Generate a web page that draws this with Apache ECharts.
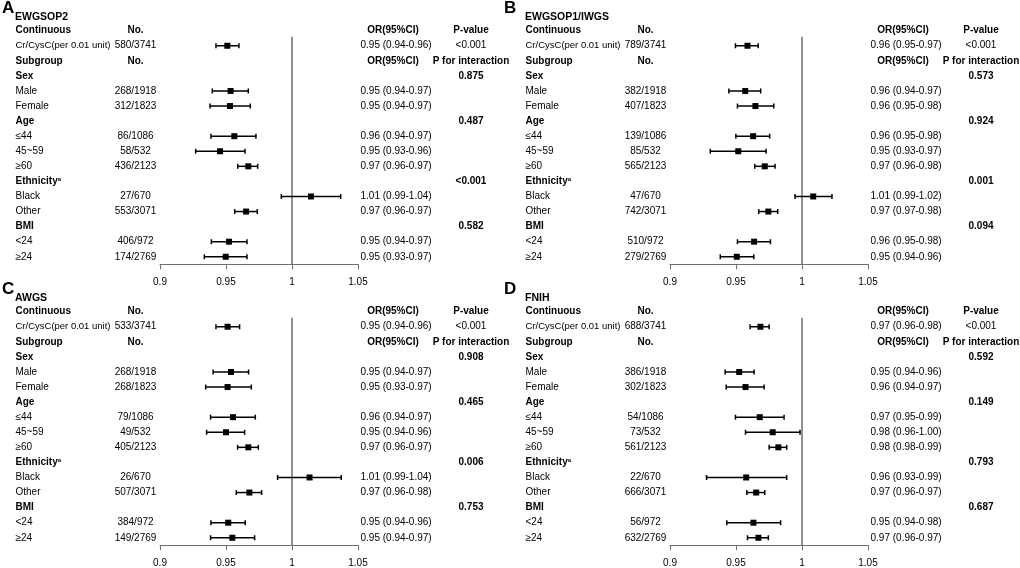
<!DOCTYPE html>
<html>
<head>
<meta charset="utf-8">
<title>Forest plots</title>
<script src="https://cdn.jsdelivr.net/npm/echarts@6/dist/echarts.min.js"></script>
<style>
	html, body { margin: 0; padding: 0; background: #fff; }
	#main { width: 1020px; height: 568px; }
</style>
</head>
<body>
<div id="main"></div>
<script>
const panelLetters = ["A", "B", "C", "D"]
const panelTitles = ["EWGSOP2", "EWGSOP1/IWGS", "AWGS", "FNIH"]
const rowLabels = ["Cr/CysC(per 0.01 unit)", "Male", "Female", "≤44", "45~59", "≥60", "Black", "Other", "<24", "≥24"]
const groupLabels = ["Sex", "Age", "Ethnicity", "BMI"]
const groupNotes = ["", "", "a", ""]
const xTicks = [0.9, 0.95, 1, 1.05]

// A: EWGSOP2
const countsA = ["580/3741", "268/1918", "312/1823", "86/1086", "58/532", "436/2123", "27/670", "553/3071", "406/972", "174/2769"]
const orTextA = ["0.95 (0.94-0.96)", "0.95 (0.94-0.97)", "0.95 (0.94-0.97)", "0.96 (0.94-0.97)", "0.95 (0.93-0.96)", "0.97 (0.96-0.97)", "1.01 (0.99-1.04)", "0.97 (0.96-0.97)", "0.95 (0.94-0.97)", "0.95 (0.93-0.97)"]
const pTextA = ["<0.001", "0.875", "0.487", "<0.001", "0.582"]
const estA = [0.951, 0.9535, 0.953, 0.9563, 0.9455, 0.9669, 1.0144, 0.9652, 0.9523, 0.9498]
const lowA = [0.9424, 0.9396, 0.9379, 0.9386, 0.927, 0.9589, 0.9919, 0.9566, 0.9389, 0.9336]
const highA = [0.9598, 0.9669, 0.9684, 0.9727, 0.9644, 0.974, 1.0369, 0.9737, 0.9659, 0.9659]

// B: EWGSOP1/IWGS
const countsB = ["789/3741", "382/1918", "407/1823", "139/1086", "85/532", "565/2123", "47/670", "742/3071", "510/972", "279/2769"]
const orTextB = ["0.96 (0.95-0.97)", "0.96 (0.94-0.97)", "0.96 (0.95-0.98)", "0.96 (0.95-0.98)", "0.95 (0.93-0.97)", "0.97 (0.96-0.98)", "1.01 (0.99-1.02)", "0.97 (0.97-0.98)", "0.96 (0.95-0.98)", "0.95 (0.94-0.96)"]
const pTextB = ["<0.001", "0.573", "0.924", "0.001", "0.094"]
const estB = [0.9587, 0.957, 0.9647, 0.963, 0.9517, 0.9718, 1.0085, 0.9745, 0.9637, 0.9506]
const lowB = [0.9496, 0.9446, 0.9511, 0.9499, 0.9305, 0.9642, 0.9947, 0.9672, 0.9511, 0.9381]
const highB = [0.9668, 0.9687, 0.9786, 0.9755, 0.9728, 0.9796, 1.0227, 0.9816, 0.9761, 0.9635]

// C: AWGS
const countsC = ["533/3741", "268/1918", "268/1823", "79/1086", "49/532", "405/2123", "26/670", "507/3071", "384/972", "149/2769"]
const orTextC = ["0.95 (0.94-0.96)", "0.95 (0.94-0.97)", "0.95 (0.93-0.97)", "0.96 (0.94-0.97)", "0.95 (0.94-0.96)", "0.97 (0.96-0.97)", "1.01 (0.99-1.04)", "0.97 (0.96-0.98)", "0.95 (0.94-0.96)", "0.95 (0.94-0.97)"]
const pTextC = ["<0.001", "0.908", "0.465", "0.006", "0.753"]
const estC = [0.9512, 0.9538, 0.9512, 0.9553, 0.95, 0.9669, 1.0133, 0.9677, 0.9517, 0.9548]
const lowC = [0.9424, 0.9402, 0.9346, 0.9383, 0.9353, 0.9588, 0.9891, 0.9578, 0.9386, 0.9383]
const highC = [0.9603, 0.9671, 0.9692, 0.9722, 0.9641, 0.9745, 1.0373, 0.977, 0.9646, 0.9717]

// D: FNIH
const countsD = ["688/3741", "386/1918", "302/1823", "54/1086", "73/532", "561/2123", "22/670", "666/3071", "56/972", "632/2769"]
const orTextD = ["0.97 (0.96-0.98)", "0.95 (0.94-0.96)", "0.96 (0.94-0.97)", "0.97 (0.95-0.99)", "0.98 (0.96-1.00)", "0.98 (0.98-0.99)", "0.96 (0.93-0.99)", "0.97 (0.96-0.97)", "0.95 (0.94-0.98)", "0.97 (0.96-0.97)"]
const pTextD = ["<0.001", "0.592", "0.149", "0.793", "0.687"]
const estD = [0.9685, 0.9524, 0.9572, 0.968, 0.9778, 0.9821, 0.9577, 0.9653, 0.9632, 0.967]
const lowD = [0.9607, 0.9418, 0.9426, 0.9496, 0.9572, 0.9751, 0.9277, 0.9582, 0.943, 0.9587]
const highD = [0.9751, 0.9637, 0.9713, 0.9864, 0.9985, 0.9884, 0.9884, 0.9718, 0.9838, 0.9745]

const panels = [
	{ counts: countsA, orText: orTextA, pText: pTextA, est: estA, low: lowA, high: highA },
	{ counts: countsB, orText: orTextB, pText: pTextB, est: estB, low: lowB, high: highB },
	{ counts: countsC, orText: orTextC, pText: pTextC, est: estC, low: lowC, high: highC },
	{ counts: countsD, orText: orTextD, pText: pTextD, est: estD, low: lowD, high: highD },
]

// layout
const FONT = '"Liberation Sans", Arial, sans-serif'
const panelPos = [[0, 0], [510, 0], [0, 281], [510, 281]]
const letterX = [2, -6, 2, -6]
const rowOf = [1, 4, 5, 7, 8, 9, 11, 12, 14, 15]
const groupRowOf = [3, 6, 10, 13]
const rowMin = -1
const rowMax = 15.5
const gridTop = 15.6
const gridHeight = 248.7
const col = { label: 15.5, count: 135.5, orHead: 393, orVal: 360.5, p: 471 }
const plotLeft = 160
const plotWidth = 198
const gray = "#6e6e6e"

const buildTexts = (p) => {
	const d = panels[p]
	let t = []
	t.push({ x: letterX[p], row: -1.47, text: panelLetters[p], size: 17, bold: true })
	t.push({ x: col.label - 0.5, row: -0.93, text: panelTitles[p], size: 10.5, bold: true })
	t.push({ x: col.label, row: 0, text: "Continuous", bold: true })
	t.push({ x: col.count, row: 0, text: "No.", bold: true, align: "center" })
	t.push({ x: col.orHead, row: 0, text: "OR(95%CI)", bold: true, align: "center" })
	t.push({ x: col.p, row: 0, text: "P-value", bold: true, align: "center" })
	t.push({ x: col.p, row: 1, text: d.pText[0], align: "center" })
	t.push({ x: col.label, row: 2, text: "Subgroup", bold: true })
	t.push({ x: col.count, row: 2, text: "No.", bold: true, align: "center" })
	t.push({ x: col.orHead, row: 2, text: "OR(95%CI)", bold: true, align: "center" })
	t.push({ x: col.p, row: 2, text: "P for interaction", bold: true, align: "center" })
	groupLabels.forEach((g, i) => {
		t.push({ x: col.label, row: groupRowOf[i], text: g, bold: true, sup: groupNotes[i] })
		t.push({ x: col.p, row: groupRowOf[i], text: d.pText[i + 1], bold: true, align: "center" })
	})
	rowLabels.forEach((lab, i) => {
		// the long continuous label is set a touch tighter, as in the source figure
		t.push({ x: col.label, row: rowOf[i], text: lab, size: i === 0 ? 9.5 : 10 })
		t.push({ x: col.count, row: rowOf[i], text: d.counts[i], align: "center" })
		t.push({ x: col.orVal, row: rowOf[i], text: d.orText[i] })
	})
	return t
}

const renderText = (texts) => (params, api) => {
	const t = texts[params.dataIndex]
	const pos = api.coord([t.x, t.row])
	let style = {
		text: t.sup ? t.text + "{sup|" + t.sup + "}" : t.text,
		fill: "#000",
		fontSize: t.size || 10,
		fontWeight: t.bold ? "bold" : "normal",
		fontFamily: FONT,
		align: t.align || "left",
		verticalAlign: "middle",
	}
	if (t.sup) {
		style.rich = { sup: { fontSize: 6, fontWeight: "bold", fontFamily: FONT, fill: "#000", verticalAlign: "top" } }
	}
	return { type: "text", x: pos[0], y: pos[1], style: style }
}

const renderForest = (params, api) => {
	const row = api.value(1)
	const pE = api.coord([api.value(0), row])
	const pL = api.coord([api.value(2), row])
	const pH = api.coord([api.value(3), row])
	const cap = 2.5
	const half = 3
	const ls = { stroke: "#000", lineWidth: 1.5 }
	return {
		type: "group",
		children: [
			{ type: "line", shape: { x1: pL[0], y1: pL[1], x2: pH[0], y2: pH[1] }, style: ls },
			{ type: "line", shape: { x1: pL[0], y1: pL[1] - cap, x2: pL[0], y2: pL[1] + cap }, style: ls },
			{ type: "line", shape: { x1: pH[0], y1: pH[1] - cap, x2: pH[0], y2: pH[1] + cap }, style: ls },
			{ type: "rect", shape: { x: pE[0] - half, y: pE[1] - half, width: half * 2, height: half * 2 }, style: { fill: "#000" } },
		],
	}
}

let grid = []
let xAxis = []
let yAxis = []
let series = []
panelPos.forEach(([ox, oy], p) => {
	const d = panels[p]
	const ti = p * 2
	const fi = p * 2 + 1
	// table grid (pixel-like x units across the panel)
	grid.push({ left: ox, top: oy + gridTop, width: 510, height: gridHeight, outerBoundsMode: "none" })
	xAxis.push({ gridIndex: ti, type: "value", min: 0, max: 510, show: false })
	yAxis.push({ gridIndex: ti, type: "value", min: rowMin, max: rowMax, inverse: true, show: false })
	// forest grid
	grid.push({ left: ox + plotLeft, top: oy + gridTop, width: plotWidth, height: gridHeight, outerBoundsMode: "none" })
	xAxis.push({
		gridIndex: fi,
		type: "value",
		position: "bottom",
		min: xTicks[0],
		max: xTicks[xTicks.length - 1],
		interval: 0.05,
		axisLine: { show: true, onZero: false, lineStyle: { color: gray, width: 1 } },
		axisTick: { show: true, length: 5, lineStyle: { color: gray, width: 1 } },
		axisLabel: { color: "#000", fontSize: 10, fontFamily: FONT, margin: 13, showMinLabel: true, showMaxLabel: true },
		splitLine: { show: false },
	})
	yAxis.push({ gridIndex: fi, type: "value", min: rowMin, max: rowMax, inverse: true, show: false })

	const texts = buildTexts(p)
	series.push({
		type: "custom",
		xAxisIndex: ti,
		yAxisIndex: ti,
		encode: { x: 0, y: 1 },
		data: texts.map((t) => [t.x, t.row]),
		renderItem: renderText(texts),
		silent: true,
	})
	series.push({
		type: "line",
		xAxisIndex: fi,
		yAxisIndex: fi,
		data: [[1, 0.4], [1, rowMax]],
		symbol: "none",
		lineStyle: { color: gray, width: 1.5 },
		silent: true,
		z: 1,
	})
	series.push({
		type: "custom",
		xAxisIndex: fi,
		yAxisIndex: fi,
		encode: { x: 0, y: 1 },
		data: d.est.map((e, i) => [e, rowOf[i], d.low[i], d.high[i]]),
		renderItem: renderForest,
		silent: true,
		z: 3,
	})
})

const chart = echarts.init(document.getElementById("main"))
chart.setOption({ animation: false, grid: grid, xAxis: xAxis, yAxis: yAxis, series: series })
</script>
</body>
</html>
